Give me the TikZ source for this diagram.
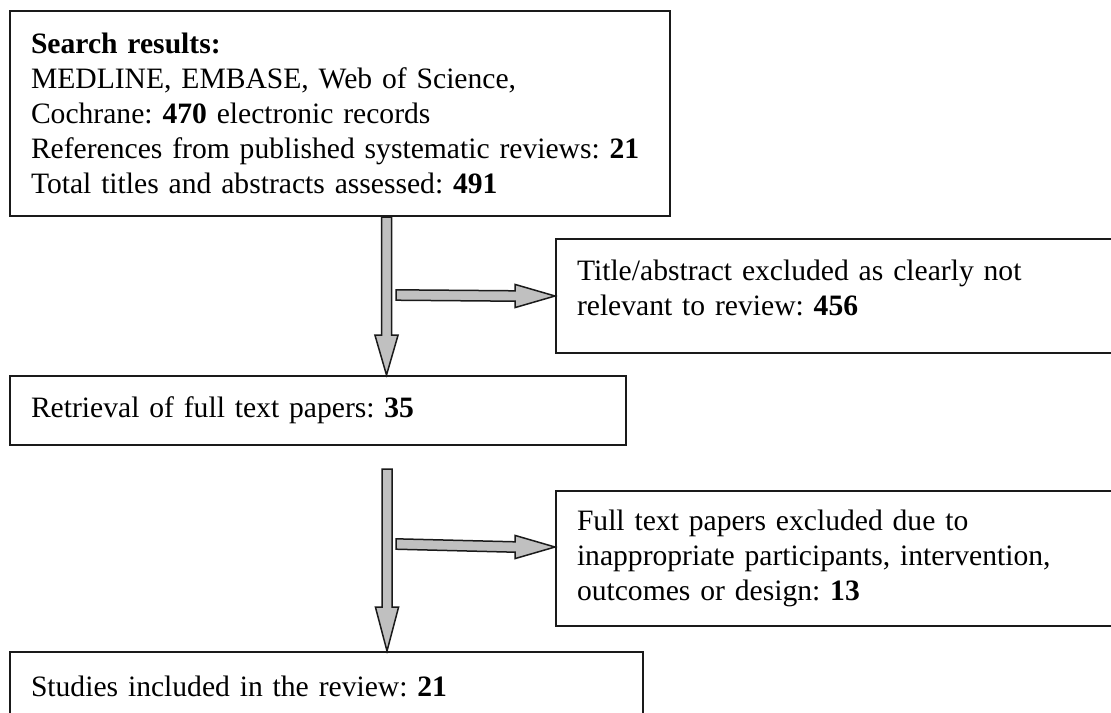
\documentclass[tikz,border=0pt]{standalone}
\usepackage{fontspec}
\setmainfont{Liberation Serif}
\usepackage{tikz}
\usetikzlibrary{positioning, calc}
\usepackage{xcolor}
\definecolor{lineC}{HTML}{1A1A1A}
\definecolor{arwGray}{HTML}{C0C0C0}
\frenchspacing
\tikzset{
  box/.style={rectangle, draw=lineC, fill=white, line width=1pt, align=left, inner xsep=10.5pt, inner ysep=0pt, font=\fontsize{14.8pt}{17.5pt}\selectfont},
  blk/.style={draw=lineC, fill=arwGray, line width=0.75pt, line join=miter}
}
% block arrow down: start, tip, head length
\newcommand{\dnarr}[3]{%
  \draw[blk] ([xshift=-2.5pt]#1) -- ([xshift=-2.5pt,yshift=#3]#2) -- ([xshift=-5.8pt,yshift=#3]#2) -- (#2)
    -- ([xshift=5.8pt,yshift=#3]#2) -- ([xshift=2.5pt,yshift=#3]#2) -- ([xshift=2.5pt]#1) -- cycle;}
% block arrow right: start, tip, head length
\newcommand{\rtarr}[3]{%
  \draw[blk] ([yshift=2.6pt]#1) -- ([xshift=-#3,yshift=2.6pt]#2) -- ([xshift=-#3,yshift=5.8pt]#2) -- (#2)
    -- ([xshift=-#3,yshift=-5.8pt]#2) -- ([xshift=-#3,yshift=-2.6pt]#2) -- ([yshift=-2.6pt]#1) -- cycle;}

\begin{document}
\begin{tikzpicture}[x=0.5pt, y=-0.5pt]
  \useasboundingbox (0,0) rectangle (1111,712);
  \clip (0,0) rectangle (1111,712);

  % ── Boxes ──
  \node[box, anchor=north west, minimum width=330pt, minimum height=102.5pt, text width=309pt] (srch) at (9,10)
    {\textbf{Search results:}\\ MEDLINE, EMBASE, Web of Science,\\ Cochrane: \textbf{470} electronic records\\ References from published systematic reviews: \textbf{21}\\ Total titles and abstracts assessed: \textbf{491}};
  \node[box, below=79pt of srch.south west, anchor=north west, minimum width=308pt, minimum height=34.5pt, text width=287pt] (ret)
    {Retrieval of full text papers: \textbf{35}};
  \node[box, below=102.5pt of ret.south west, anchor=north west, minimum width=316.5pt, minimum height=34.5pt, text width=295.5pt] (incl)
    {Studies included in the review: \textbf{21}};
  \node[box, anchor=north west, minimum width=280.5pt, minimum height=57pt, text width=259.5pt] (excl1) at (555,238)
    {Title/abstract excluded as clearly not\\ relevant to review: \textbf{456}\\[-9pt]\mbox{}};
  \node[box, below=68pt of excl1.south west, anchor=north west, minimum width=280.5pt, minimum height=67.5pt, text width=259.5pt] (excl2)
    {Full text papers excluded due to\\ inappropriate participants, intervention,\\ outcomes or design: \textbf{13}};

  % ── Arrows ──
  \coordinate (a1) at ([xshift=188.75pt]srch.south west);
  \coordinate (t1) at (a1 |- ret.north);
  \coordinate (a2) at ([xshift=189pt, yshift=-11.5pt]ret.south west);
  \coordinate (t2) at (a2 |- incl.north);
  \coordinate (b1) at (396,295);
  \coordinate (b2) at (396,544);
  \coordinate (c2) at ([yshift=5.75pt]excl2.west);

  \dnarr{a1}{t1}{20pt}
  \dnarr{a2}{t2}{22pt}
  \rtarr{b1}{excl1.west}{20pt}
  \rtarr{b2}{c2}{20pt}
\end{tikzpicture}
\end{document}
